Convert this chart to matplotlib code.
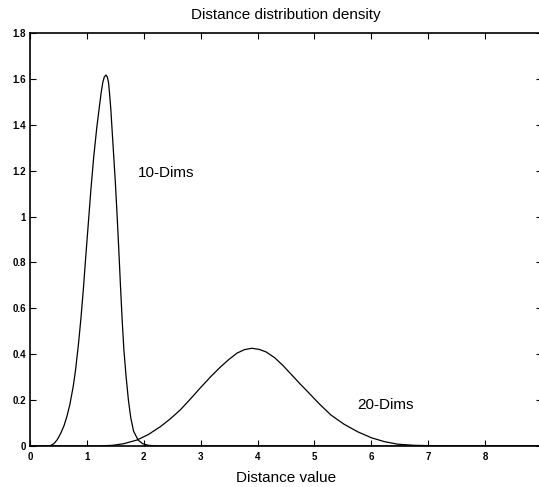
import numpy as np
import matplotlib
matplotlib.use("Agg")
import matplotlib.pyplot as plt
from matplotlib.ticker import FormatStrFormatter

# points (distance, density)
dims10_x = [0.0, 0.30, 0.36, 0.42, 0.48, 0.54, 0.60, 0.65, 0.70, 0.76, 0.80, 0.85,
            0.893, 0.94, 0.98, 1.025, 1.07, 1.12, 1.175, 1.215, 1.251, 1.28, 1.305,
            1.334, 1.36, 1.38, 1.397, 1.42, 1.44, 1.47, 1.50, 1.53, 1.56, 1.59, 1.62,
            1.65, 1.69, 1.73, 1.77, 1.82, 1.90, 1.98, 2.08, 2.25, 9.0]
dims10_y = [0.0, 0.0, 0.002, 0.01, 0.028, 0.055, 0.09, 0.13, 0.18, 0.26, 0.33, 0.44,
            0.55, 0.69, 0.825, 0.97, 1.116, 1.26, 1.39, 1.47, 1.54, 1.585, 1.608,
            1.617, 1.608, 1.585, 1.54, 1.47, 1.39, 1.27, 1.15, 1.01, 0.86, 0.70, 0.55,
            0.42, 0.30, 0.20, 0.125, 0.065, 0.026, 0.01, 0.003, 0.0, 0.0]

dims20_x = [0.0, 1.2, 1.45, 1.65, 1.88, 2.08, 2.29, 2.46, 2.64, 2.82, 3.0, 3.18, 3.35,
            3.50, 3.64, 3.77, 3.90, 4.03, 4.15, 4.30, 4.45, 4.60, 4.75, 4.88, 5.08,
            5.29, 5.52, 5.76, 6.0, 6.23, 6.46, 6.75, 7.1, 7.5, 9.0]
dims20_y = [0.0, 0.0, 0.003, 0.01, 0.026, 0.05, 0.084, 0.117, 0.157, 0.205, 0.255,
            0.303, 0.345, 0.378, 0.405, 0.42, 0.426, 0.421, 0.41, 0.385, 0.35, 0.31,
            0.27, 0.237, 0.185, 0.135, 0.095, 0.062, 0.036, 0.019, 0.008, 0.003,
            0.001, 0.0, 0.0]

xticks = list(range(0, 9))
yticks = [0, 0.2, 0.4, 0.6, 0.8, 1.0, 1.2, 1.4, 1.6, 1.8]

plt.rcParams['font.family'] = ['Liberation Sans', 'DejaVu Sans']

fig = plt.figure(figsize=(5.39, 4.87), dpi=100)
ax = fig.add_axes([30 / 539, 41 / 487, 512 / 539, 413 / 487])

ax.plot(dims10_x, dims10_y, color='black', lw=0.9)
ax.plot(dims20_x, dims20_y, color='black', lw=0.9)

ax.text(1.9, 1.19, "10-Dims", fontsize=11, va='center', ha='left')
ax.text(5.75, 0.18, "20-Dims", fontsize=11, va='center', ha='left')

ax.set_xlim(0, 9)
ax.set_ylim(0, 1.8)
ax.set_xticks(xticks)
ax.set_yticks(yticks)
ax.yaxis.set_major_formatter(FormatStrFormatter('%g'))
ax.tick_params(direction='in', length=4, width=0.8, top=True, right=True,
               labelsize=7, pad=3)
ax.tick_params(axis='x', pad=4)
for lab in ax.get_xticklabels() + ax.get_yticklabels():
    lab.set_fontweight('bold')
for s in ax.spines.values():
    s.set_linewidth(1.2)

ax.set_title("Distance distribution density", fontsize=11, pad=10)
ax.set_xlabel("Distance value", fontsize=11, labelpad=7)

fig.savefig("out.png", dpi=100)
